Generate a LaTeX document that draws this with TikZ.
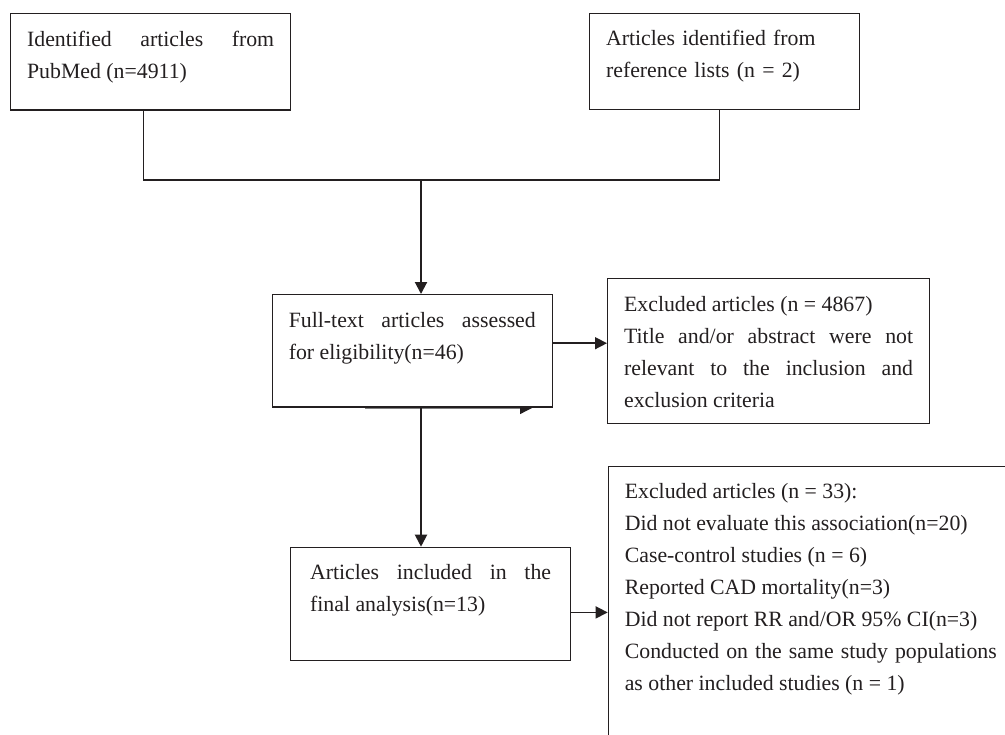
\documentclass[tikz,border=0pt]{standalone}
\usepackage{fontspec}
\setmainfont{Liberation Serif}
\usepackage{tikz}
\usetikzlibrary{arrows.meta,positioning,calc,backgrounds}
\definecolor{ink}{RGB}{35,31,32}
\hyphenpenalty=10000
\exhyphenpenalty=10000
\tolerance=9999

\begin{document}
\begin{tikzpicture}[x=0.5pt,y=-0.5pt,>={Triangle[length=6pt,width=6pt]},
box/.style={draw=ink,line width=0.6pt,fill=white,anchor=north west,align=justify,text width=123.5pt,
  inner xsep=8.25pt,inner ysep=0pt,text height=16.2pt,text=ink,font=\fontsize{10.9}{16}\selectfont},
link/.style={draw=ink,line width=0.6pt},
flow/.style={draw=ink,line width=1pt},
side/.style={draw=ink,line width=0.75pt}]
\useasboundingbox (0,0) rectangle (1005,734);
\clip (0,0) rectangle (1005,734);
\node[box,text depth=32pt] (pubmed) at (10,13) {Identified articles from PubMed (n=4911)};
\node[box,align=left,text width=118.5pt,text depth=32pt] (refs) at (589,12.7) {Articles identified from reference lists (n = 2)};
\node[box,text depth=40pt] (full) at (271.7,294) {Full-text articles assessed for eligibility(n=46)};
\node[box,text width=144.5pt,text depth=56.3pt] (excl1) at (607,278) {Excluded articles (n = 4867)\\Title and/or abstract were not relevant to the inclusion and exclusion criteria};
\node[box,text width=120.5pt,inner xsep=9.75pt,text depth=40.5pt] (incl) at (290,546.7) {Articles included in the final analysis(n=13)};
\node[box,text width=186pt,text depth=150pt] (excl2) at (607.7,465.7) {Excluded articles (n = 33):\\Did not evaluate this association(n=20)\\Case-control studies (n = 6)\\Reported CAD mortality(n=3)\\Did not report RR and/OR 95\% CI(n=3)\\Conducted on the same study populations as other included studies (n = 1)};
\coordinate (join) at (421,180);
\draw[link] ([xshift=-3.65pt]pubmed.south) |- ([xshift=-2.5pt]refs.south |- join) -- ([xshift=-2.5pt]refs.south);
\draw[flow,->] (join) -- (join |- full.north);
\draw[flow,->] (join |- full.south) -- (join |- incl.north);
\draw[side,->] ([yshift=3.8pt]full.east) -- ([yshift=3.8pt]full.east -| excl1.west);
\draw[side,->] ([yshift=-4.2pt]incl.east) -- ([yshift=-4.2pt]incl.east -| excl2.west);
% stray arrow under the full-text box
\coordinate (stubL) at (365,408);
\coordinate (stubR) at (532,408);
\begin{scope}[on background layer]
\draw[draw=gray,line width=0.6pt,-{Triangle[length=6pt,width=6pt,color=ink]}] (stubL) -- (stubR);
\end{scope}
\end{tikzpicture}
\end{document}
